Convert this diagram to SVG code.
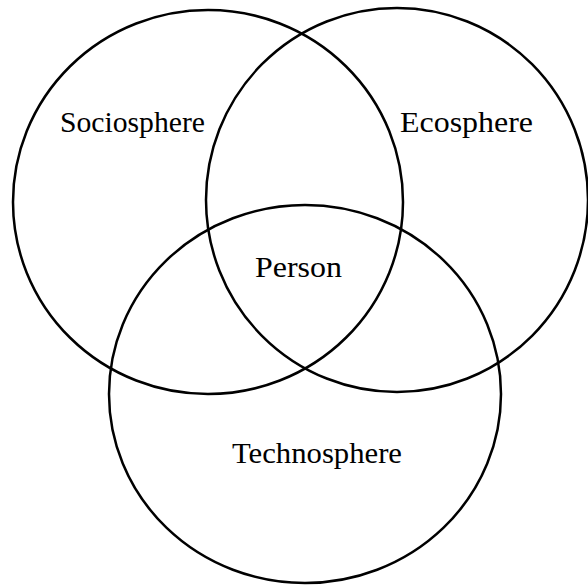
<svg xmlns="http://www.w3.org/2000/svg" width="588" height="586" viewBox="0 0 588 586">
<style>
.c{fill:none;stroke:#000;stroke-width:2.5}
.t{font-family:"Liberation Serif","Times New Roman",serif;font-size:29px;fill:#000}
</style>
<rect width="588" height="586" fill="#fff"/>
<g id="sociosphere"><ellipse class="c" cx="208" cy="202" rx="195" ry="192"/><text class="t" x="60" y="132" textLength="145" lengthAdjust="spacingAndGlyphs">Sociosphere</text></g>
<g id="ecosphere"><ellipse class="c" cx="397" cy="200" rx="191" ry="192"/><text class="t" x="400" y="132" textLength="133" lengthAdjust="spacingAndGlyphs">Ecosphere</text></g>
<g id="technosphere"><ellipse class="c" cx="305" cy="394" rx="196" ry="189"/><text class="t" x="232" y="463" textLength="170" lengthAdjust="spacingAndGlyphs">Technosphere</text></g>
<g id="person"><text class="t" x="255" y="277" textLength="87" lengthAdjust="spacingAndGlyphs">Person</text></g>
<g id="connectors"></g>
</svg>
